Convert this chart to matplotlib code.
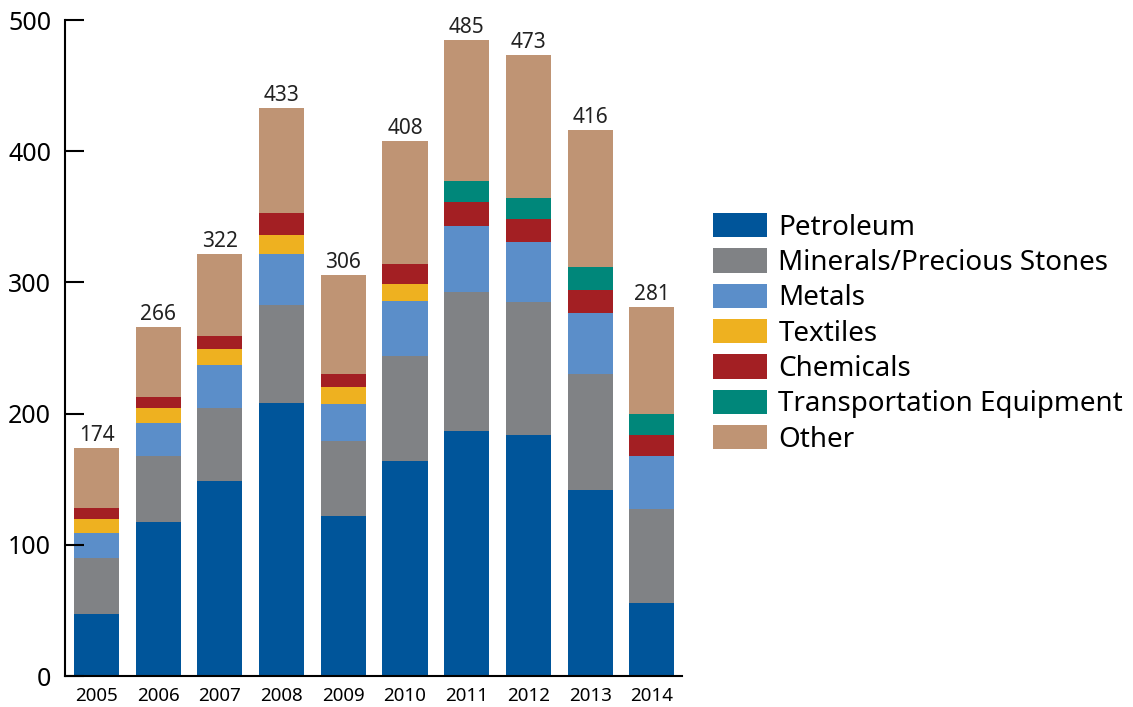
from matplotlib import pyplot as plt
import numpy as np

plt.rcParams['font.family'] = ['Noto Sans', 'DejaVu Sans']

years = ['2005', '2006', '2007', '2008', '2009', '2010', '2011', '2012', '2013', '2014']

petroleum = [47, 117, 149, 208, 122, 164, 187, 184, 142, 56]
minerals = [43, 51, 55, 75, 57, 80, 106, 101, 88, 71]
metals = [19, 25, 33, 39, 28, 42, 50, 46, 47, 41]
textiles = [11, 11, 12, 14, 13, 13, 0, 0, 0, 0]
chemicals = [8, 9, 10, 17, 10, 15, 18, 17, 17, 16]
transport = [0, 0, 0, 0, 0, 0, 16, 16, 18, 16]
other = [46, 53, 63, 80, 76, 94, 108, 109, 104, 81]
totals = [174, 266, 322, 433, 306, 408, 485, 473, 416, 281]

series = [
    ('Petroleum', petroleum, '#00559a'),
    ('Minerals/Precious Stones', minerals, '#808285'),
    ('Metals', metals, '#5b8ec9'),
    ('Textiles', textiles, '#eeb120'),
    ('Chemicals', chemicals, '#a31f23'),
    ('Transportation Equipment', transport, '#00877a'),
    ('Other', other, '#bf9474'),
]

W, H = 1133, 707
fig = plt.figure(figsize=(W / 100, H / 100), dpi=100)
ax = fig.add_axes([65 / W, (H - 676) / H, (682 - 65) / W, (676 - 20) / H])

x = np.arange(len(years))
bottom = np.zeros(len(years))
for name, vals, color in series:
    vals = np.array(vals, dtype=float)
    ax.bar(x, vals, width=0.73, bottom=bottom, color=color, label=name, linewidth=0)
    bottom += vals

for xi, t in zip(x, totals):
    ax.text(xi, t + 1.5, str(t), ha='center', va='bottom', fontsize=15, color='#222222')

ax.set_xlim(-0.511, 9.49)
ax.set_ylim(0, 500)
ax.set_yticks([0, 100, 200, 300, 400, 500])
ax.set_xticks(x)
ax.set_xticklabels(years)
ax.tick_params(axis='y', direction='in', length=14, width=1.5, labelsize=18, pad=10)
ax.tick_params(axis='x', length=0, labelsize=13.5, pad=8)
for s in ['top', 'right']:
    ax.spines[s].set_visible(False)
for s in ['left', 'bottom']:
    ax.spines[s].set_linewidth(1.5)

fig.legend(loc='upper left', bbox_to_anchor=(713 / W, 1 - 213 / H), frameon=False,
           fontsize=20, handlelength=1.95, handleheight=0.97, handletextpad=0.4,
           labelspacing=0.24, borderpad=0, borderaxespad=0)

fig.savefig('out.png', dpi=100)
